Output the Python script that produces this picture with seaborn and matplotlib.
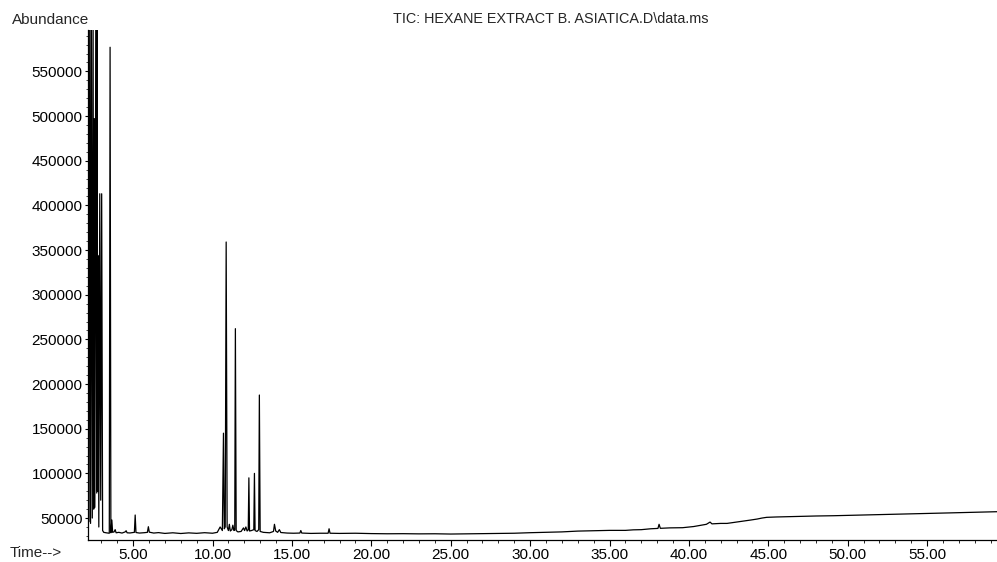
import matplotlib
matplotlib.use('Agg')
import matplotlib.pyplot as plt
import numpy as np
import pandas as pd
import seaborn as sns
from matplotlib.ticker import MultipleLocator, FormatStrFormatter

# retention time (min) and abundance
rt_min = [
    2.13, 2.17, 2.22, 2.27, 2.32, 2.37, 2.43, 2.48, 2.52, 2.55,
    2.59, 2.65, 2.71, 2.73, 2.76, 2.78, 2.84, 2.90, 2.96, 3.02,
    3.08, 3.15, 3.30, 3.50, 3.55, 3.60, 3.66, 3.71, 3.80, 3.87,
    3.93, 4.10, 4.30, 4.50, 4.56, 4.62, 4.80, 5.00, 5.08, 5.13,
    5.18, 5.40, 5.70, 5.90, 5.96, 6.02, 6.30, 6.60, 7.00, 7.50,
    8.00, 8.50, 9.00, 9.50, 10.00, 10.30, 10.48, 10.62, 10.69, 10.74,
    10.80, 10.86, 10.92, 11.00, 11.06, 11.12, 11.22, 11.28, 11.35, 11.40,
    11.44, 11.49, 11.60, 11.80, 11.95, 12.02, 12.10, 12.18, 12.25, 12.29,
    12.33, 12.45, 12.60, 12.64, 12.68, 12.80, 12.91, 12.95, 13.00, 13.20,
    13.60, 13.84, 13.90, 13.98, 14.10, 14.21, 14.30, 14.70, 15.10, 15.50,
    15.56, 15.62, 16.20, 16.80, 17.28, 17.34, 17.40, 18.00, 19.00, 20.00,
    21.00, 22.00, 23.00, 24.00, 25.00, 26.00, 27.00, 28.00, 29.00, 30.00,
    31.00, 32.00, 33.00, 34.00, 35.00, 36.00, 36.50, 37.00, 37.60, 38.05,
    38.12, 38.20, 38.80, 39.60, 40.30, 41.10, 41.33, 41.45, 42.00, 42.40,
    43.00, 43.40, 43.90, 44.30, 44.60, 44.90, 45.50, 46.20, 47.00, 48.00,
    49.10, 50.00, 51.00, 52.20, 53.00, 54.00, 55.40, 56.50, 57.50, 58.50,
    59.40,
]
abundance = [
    48000, 620000, 46000, 620000, 44000, 620000, 50000, 620000, 60000, 497000,
    62000, 620000, 78000, 620000, 80000, 344000, 40000, 413000, 70000, 413000,
    36000, 34000, 33500, 33000, 577000, 33500, 47800, 34000, 34500, 37000,
    33500, 34000, 33200, 34500, 35800, 33500, 33300, 33800, 34000, 53400,
    33800, 33200, 33600, 34000, 40300, 34200, 33200, 33700, 32800, 33500,
    32700, 33400, 32900, 33600, 33000, 34000, 40000, 36000, 145000, 38000,
    40000, 359000, 40000, 36000, 43000, 35500, 37000, 42000, 36000, 37000,
    262000, 36000, 34500, 35000, 39000, 36000, 40000, 35500, 37000, 95000,
    35500, 36000, 37000, 100000, 36000, 35000, 37000, 187700, 35000, 34000,
    33500, 35000, 43000, 35500, 34000, 37000, 33800, 33200, 33000, 33200,
    36000, 33200, 32800, 33000, 33000, 38000, 33000, 32800, 33000, 32600,
    32400, 32500, 32300, 32400, 32100, 32300, 32500, 32700, 33000, 33600,
    34000, 34500, 35400, 35800, 36200, 36200, 36800, 37000, 38000, 38400,
    43000, 38500, 39000, 39200, 40500, 43000, 45500, 43500, 44000, 44000,
    45500, 46600, 47800, 48900, 50000, 50800, 51200, 51500, 51900, 52300,
    52600, 53000, 53500, 54100, 54400, 54800, 55300, 55800, 56200, 56700,
    57100,
]

y_ticks = [50000, 100000, 150000, 200000, 250000, 300000,
           350000, 400000, 450000, 500000, 550000]
x_ticks = [5, 10, 15, 20, 25, 30, 35, 40, 45, 50, 55]

df = pd.DataFrame({'rt': rt_min, 'abundance': abundance})

sns.set_style('ticks')
plt.rcParams['font.family'] = ['Liberation Sans', 'DejaVu Sans']

fig = plt.figure(figsize=(9.97, 5.62), dpi=100)
ax = fig.add_axes([0.0878, 0.0391, 0.9122, 0.9075])

sns.lineplot(data=df, x='rt', y='abundance', ax=ax, color='black',
             linewidth=0.9, sort=False, estimator=None)

ax.set_xlim(2.13, 59.4)
ax.set_ylim(25400, 596300)
ax.set_xticks(x_ticks)
ax.set_yticks(y_ticks)
ax.xaxis.set_major_formatter(FormatStrFormatter('%.2f'))
ax.yaxis.set_major_formatter(FormatStrFormatter('%d'))
ax.xaxis.set_minor_locator(MultipleLocator(1))
ax.yaxis.set_minor_locator(MultipleLocator(10000))
ax.tick_params(axis='x', which='major', direction='out', length=4, width=0.8,
               pad=1.5, labelsize=11, colors='black')
ax.tick_params(axis='x', which='minor', direction='out', length=2, width=0.7)
ax.tick_params(axis='y', which='major', direction='out', length=2.5, width=0.8,
               pad=1, labelsize=11, colors='black')
ax.tick_params(axis='y', which='minor', direction='out', length=1.5, width=0.6)
ax.set_xlabel('')
ax.set_ylabel('')
sns.despine(ax=ax)
for s in ['left', 'bottom']:
    ax.spines[s].set_linewidth(0.9)
    ax.spines[s].set_color('black')

fig.text(0.552, 0.966, 'TIC: HEXANE EXTRACT B. ASIATICA.D\\data.ms',
         ha='center', va='center', fontsize=10.4)
fig.text(0.012, 0.964, 'Abundance', ha='left', va='center', fontsize=11)
fig.text(0.010, 0.016, 'Time-->', ha='left', va='center', fontsize=11)

fig.savefig('out.png', dpi=100, facecolor='white')
